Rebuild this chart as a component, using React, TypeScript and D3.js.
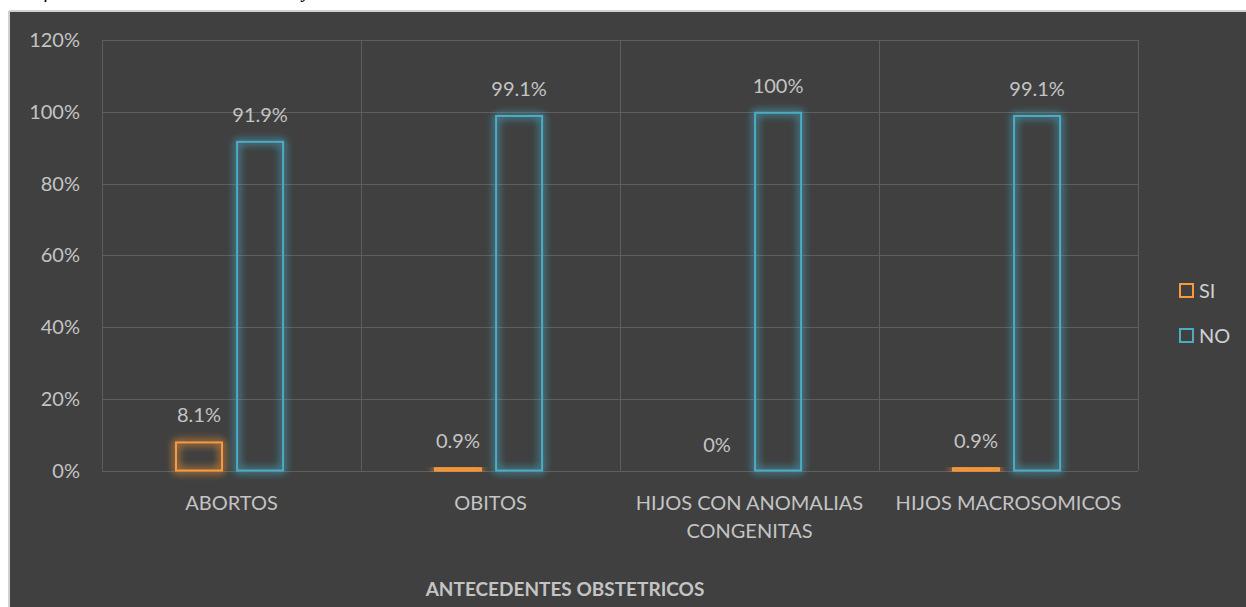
import React from "react";
import * as d3 from "d3";

const categories: string[][] = [
  ["ABORTOS"],
  ["OBITOS"],
  ["HIJOS CON ANOMALIAS", "CONGENITAS"],
  ["HIJOS MACROSOMICOS"],
];
const seriesNames = ["SI", "NO"];
const siValues = [8.1, 0.9, 0, 0.9];
const noValues = [91.9, 99.1, 100, 99.1];
const siLabels = ["8.1%", "0.9%", "0%", "0.9%"];
const noLabels = ["91.9%", "99.1%", "100%", "99.1%"];
const yTicks = [0, 20, 40, 60, 80, 100, 120];
const axisTitle = "ANTECEDENTES OBSTETRICOS";
const caption = "Gráfico 6. Antecedentes obstétricos y";

const W = 1246;
const H = 607;
const colors = ["#F79A3E", "#4BACC6"];
const FONT = "Lato, 'Open Sans', sans-serif";
const TXT = "#c4c4c4";

export default function App() {
  const left = 102;
  const right = 1138;
  const top = 40;
  const bottom = 470.5;
  const x = d3
    .scaleBand<number>()
    .domain(categories.map((_, i) => i))
    .range([left, right])
    .padding(0);
  const y = d3.scaleLinear().domain([0, 120]).range([bottom, top]);
  const barW = 48;
  const gap = 17;
  const groupW = barW * 2 + gap;
  const inner = d3
    .scaleBand<number>()
    .domain([0, 1])
    .range([0, groupW])
    .paddingInner(gap / groupW);
  const values = [siValues, noValues];
  const labels = [siLabels, noLabels];

  return (
    <svg
      width={W}
      height={H}
      style={{ position: "absolute", left: 0, top: 0, display: "block" }}
    >
      <defs>
        {colors.map((c, i) => (
          <filter
            key={i}
            id={`glow${i}`}
            x="-50%"
            y="-50%"
            width="200%"
            height="200%"
          >
            <feGaussianBlur in="SourceGraphic" stdDeviation="4" result="b" />
            <feMerge>
              <feMergeNode in="b" />
              <feMergeNode in="b" />
              <feMergeNode in="SourceGraphic" />
            </feMerge>
          </filter>
        ))}
      </defs>
      <rect x={0} y={0} width={W} height={H} fill="#ffffff" />
      <text
        x={12}
        y={-3}
        fontFamily="'Liberation Serif', 'DejaVu Serif', serif"
        fontStyle="italic"
        fontSize={20}
        fill="#000"
      >
        {caption}
      </text>
      <rect x={9} y={11} width={W - 9} height={H - 11} fill="#404040" />
      <line x1={9} y1={11} x2={W} y2={11} stroke="#d0d0d0" strokeWidth={2} />
      <line x1={9} y1={11} x2={9} y2={H} stroke="#d0d0d0" strokeWidth={2} />

      {/* gridlines */}
      {yTicks.map((t) => (
        <line
          key={t}
          x1={left}
          x2={right}
          y1={Math.round(y(t)) + 0.5}
          y2={Math.round(y(t)) + 0.5}
          stroke="#5e5e5e"
          strokeWidth={1}
        />
      ))}
      {/* category separators */}
      {d3.range(categories.length + 1).map((i) => {
        const xx = Math.round(left + i * x.bandwidth()) + 0.5;
        return (
          <line
            key={i}
            x1={xx}
            x2={xx}
            y1={top}
            y2={bottom}
            stroke="#5e5e5e"
            strokeWidth={1}
          />
        );
      })}

      {/* y tick labels */}
      {yTicks.map((t) => (
        <text
          key={t}
          x={80}
          y={y(t) + 7}
          textAnchor="end"
          fontFamily={FONT}
          fontSize={20}
          fill={TXT}
        >
          {t}%
        </text>
      ))}

      {/* bars */}
      {categories.map((_, ci) => {
        const gx = (x(ci) as number) + x.bandwidth() / 2 - groupW / 2;
        return (
          <g key={ci}>
            {values.map((vals, si) => {
              const bx = gx + (inner(si) as number);
              const v = vals[ci];
              const yTop = y(v);
              const h = bottom - yTop;
              return (
                <g key={si}>
                  {v > 0 && (
                    <rect
                      x={bx + 1}
                      y={yTop + 1}
                      width={barW - 2}
                      height={Math.max(h - 1, 1)}
                      fill="none"
                      stroke={colors[si]}
                      strokeWidth={2}
                      filter={`url(#glow${si})`}
                    />
                  )}
                  <text
                    x={bx + barW / 2}
                    y={yTop - 19}
                    textAnchor="middle"
                    fontFamily={FONT}
                    fontSize={20}
                    fill={TXT}
                  >
                    {labels[si][ci]}
                  </text>
                </g>
              );
            })}
          </g>
        );
      })}

      {/* category labels */}
      {categories.map((lines, ci) =>
        lines.map((ln, li) => (
          <text
            key={`${ci}-${li}`}
            x={(x(ci) as number) + x.bandwidth() / 2}
            y={510 + li * 28}
            textAnchor="middle"
            fontFamily={FONT}
            fontSize={20}
            fill={TXT}
          >
            {ln}
          </text>
        ))
      )}

      {/* axis title */}
      <text
        x={565}
        y={596}
        textAnchor="middle"
        fontFamily={FONT}
        fontWeight="bold"
        fontSize={19}
        fill={TXT}
      >
        {axisTitle}
      </text>

      {/* legend */}
      {seriesNames.map((s, i) => (
        <g key={s} transform={`translate(1179, ${283 + i * 45})`}>
          <rect
            x={1}
            y={1}
            width={13}
            height={13}
            fill="none"
            stroke={colors[i]}
            strokeWidth={2}
          />
          <text x={20} y={15} fontFamily={FONT} fontSize={20} fill="#d0d0d0">
            {s}
          </text>
        </g>
      ))}
    </svg>
  );
}
